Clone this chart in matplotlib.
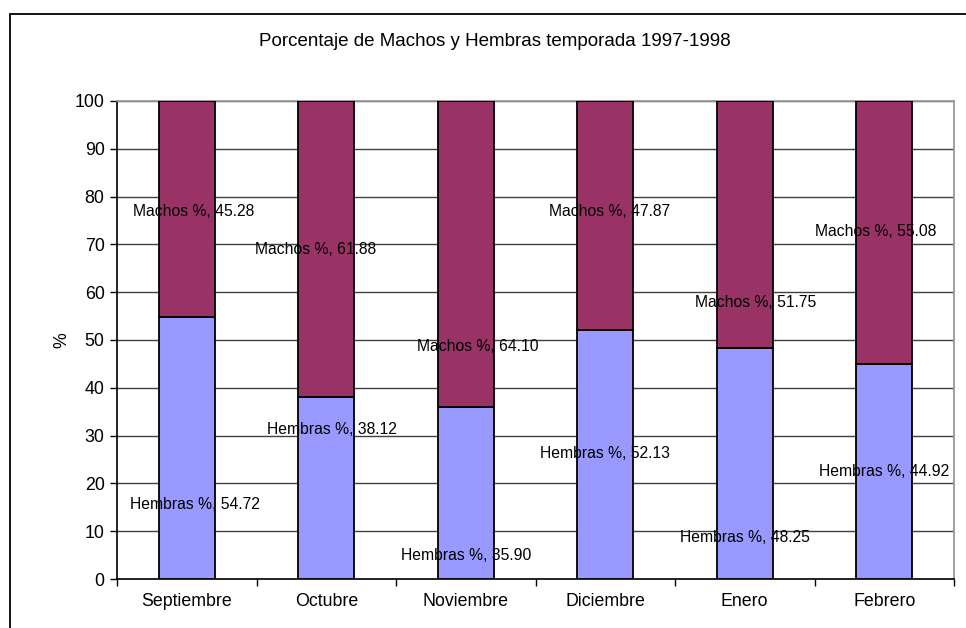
import matplotlib.pyplot as plt
from matplotlib.patches import Rectangle

plt.rcParams['font.family'] = ['Liberation Sans', 'DejaVu Sans']

meses = ['Septiembre', 'Octubre', 'Noviembre', 'Diciembre', 'Enero', 'Febrero']
hembras = [54.72, 38.12, 35.90, 52.13, 48.25, 44.92]
machos = [45.28, 61.88, 64.10, 47.87, 51.75, 55.08]

# where the data labels sit (x in category units, y in % units)
lab_machos_x = [0.05, 0.92, 2.09, 3.03, 4.08, 4.94]
lab_machos_y = [76.8, 69.0, 48.7, 76.8, 57.9, 72.8]
lab_hembras_x = [0.06, 1.04, 2.00, 3.00, 4.00, 5.00]
lab_hembras_y = [15.5, 31.2, 5.0, 26.2, 8.6, 22.4]

fig = plt.figure(figsize=(9.66, 6.28), dpi=100)
ax = fig.add_axes([117 / 966, 1 - 579 / 628, (954 - 117) / 966, (579 - 101) / 628])

# outer chart frame, open past the right and bottom edges
fig.patches.append(Rectangle((10 / 966, -0.1), 2, 1.1 - 14 / 628,
                             transform=fig.transFigure, fill=False,
                             edgecolor='black', linewidth=1.3))

x = range(len(meses))
ax.bar(x, hembras, width=0.4, color='#9999FF', edgecolor='black', linewidth=1.3, zorder=3)
ax.bar(x, machos, width=0.4, bottom=hembras, color='#993366', edgecolor='black',
       linewidth=1.3, zorder=3)

for i in x:
    ax.text(lab_machos_x[i], lab_machos_y[i], f'Machos %, {machos[i]:.2f}',
            ha='center', va='center', fontsize=11.3, zorder=4)
    ax.text(lab_hembras_x[i], lab_hembras_y[i], f'Hembras %, {hembras[i]:.2f}',
            ha='center', va='center', fontsize=11.3, zorder=4)

ax.set_xlim(-0.5, len(meses) - 0.5)
ax.set_ylim(0, 100)
ax.set_yticks(range(0, 101, 10))
ax.yaxis.grid(True, color='#404040', linewidth=1, zorder=0)
ax.tick_params(axis='y', direction='out', length=5, width=1, labelsize=12.8, pad=4)

ax.set_xticks([i - 0.5 for i in range(len(meses) + 1)])
ax.set_xticklabels([])
ax.set_xticks(list(x), minor=True)
ax.set_xticklabels(meses, minor=True)
ax.tick_params(axis='x', which='major', direction='out', length=5, width=1)
ax.tick_params(axis='x', which='minor', length=0, labelsize=12.8, pad=10)

for s in ['top', 'right']:
    ax.spines[s].set_color('#999999')
    ax.spines[s].set_linewidth(1.3)
for s in ['left', 'bottom']:
    ax.spines[s].set_color('black')
    ax.spines[s].set_linewidth(1.2)

ax.set_ylabel('%', fontsize=12.8, labelpad=3)
fig.text(495 / 966, 1 - 42 / 628, 'Porcentaje de Machos y Hembras temporada 1997-1998',
         ha='center', va='center', fontsize=13.5)

fig.savefig('out.png', dpi=100)
